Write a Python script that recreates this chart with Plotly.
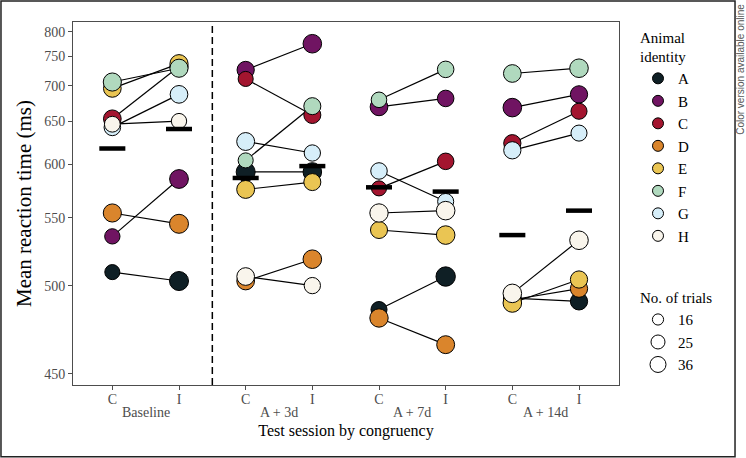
import numpy as np
import plotly.graph_objects as go

# ---------------- data ----------------
sessions = ["Baseline", "A + 3d", "A + 7d", "A + 14d"]
congruency = ["C", "I"]
animals = ["A", "B", "C", "D", "E", "F", "G", "H"]
animal_colors = ["#0f1f25", "#701462", "#a3152f", "#da852c", "#eac553",
                 "#b0d9be", "#d6eef9", "#f9f5ec"]

# mean reaction time (ms), order A..H
rt_baseline_C = [509, 535, 653, 554, 696, 706, 642, 646]
rt_baseline_I = [503, 585, 732, 545, 737, 729, 687, 650]
rt_3d_C = [592, 726, 711, 503, 575, 604, 625, 506]
rt_3d_I = [592, 775, 658, 518, 582, 670, 612, 500]
rt_7d_C = [485, 669, 576, 480, 540, 679, 593, 554]
rt_7d_I = [506, 681, 603, 465, 536, 727, 564, 556]
rt_14d_C = [492, 668, 623, 491, 489, 720, 615, 495]
rt_14d_I = [490, 687, 663, 498, 504, 729, 635, 532]

# number of trials, order A..H
trials_baseline_C = [29, 30, 40, 42, 40, 42, 35, 32]
trials_baseline_I = [46, 45, 42, 46, 42, 42, 40, 30]
trials_3d_C = [46, 38, 29, 40, 41, 29, 41, 40]
trials_3d_I = [44, 44, 37, 44, 37, 37, 34, 34]
trials_7d_C = [33, 40, 29, 43, 37, 31, 35, 43]
trials_7d_I = [48, 35, 35, 41, 44, 35, 33, 44]
trials_14d_C = [40, 44, 38, 40, 44, 40, 38, 44]
trials_14d_I = [38, 38, 33, 38, 38, 44, 33, 44]

# group-level estimates (horizontal bars)
mean_C = [617, 586, 577, 536]
mean_I = [640, 598, 573, 556]

size_legend_trials = [16, 25, 36]
y_ticks = [450, 500, 550, 600, 650, 700, 750, 800]
y_limits = [444.5, 822.8]

rt = [[rt_baseline_C, rt_baseline_I], [rt_3d_C, rt_3d_I],
      [rt_7d_C, rt_7d_I], [rt_14d_C, rt_14d_I]]
trials = [[trials_baseline_C, trials_baseline_I], [trials_3d_C, trials_3d_I],
          [trials_7d_C, trials_7d_I], [trials_14d_C, trials_14d_I]]

# power scale used by the original y axis
POW = -1.6


def T(v):
    return -1e5 * np.power(np.asarray(v, dtype=float), POW)


def size_of(n):
    return 2.8 * np.sqrt(np.asarray(n, dtype=float))


def xpos(s, c):
    return 2 * s + c


SERIF = "Liberation Serif"
GREY = "#4d4d4d"

fig = go.Figure()

# connecting lines (C -> I within each session, per animal)
lx, ly = [], []
for s in range(len(sessions)):
    for a in range(len(animals)):
        lx += [xpos(s, 0), xpos(s, 1), None]
        ly += [T(rt[s][0][a]), T(rt[s][1][a]), None]
fig.add_trace(go.Scatter(x=lx, y=ly, mode="lines",
                         line=dict(color="black", width=1.2),
                         showlegend=False, hoverinfo="skip"))

# points per animal
for a, name in enumerate(animals):
    xs, ys, ss, raw = [], [], [], []
    for s in range(len(sessions)):
        for c in range(2):
            xs.append(xpos(s, c))
            ys.append(T(rt[s][c][a]))
            ss.append(size_of(trials[s][c][a]))
            raw.append(rt[s][c][a])
    fig.add_trace(go.Scatter(
        x=xs, y=ys, mode="markers", customdata=raw,
        marker=dict(color=animal_colors[a], size=ss, opacity=1,
                    line=dict(color="black", width=1)),
        hovertemplate=name + ": %{customdata} ms<extra></extra>",
        showlegend=False))

# group bars
bx, by = [], []
for s in range(len(sessions)):
    bx += [xpos(s, 0), xpos(s, 1)]
    by += [T(mean_C[s]), T(mean_I[s])]
fig.add_trace(go.Scatter(x=bx, y=by, mode="markers",
                         marker=dict(symbol="line-ew", size=18.6, color="black",
                                     line=dict(color="black", width=4.5)),
                         showlegend=False, hoverinfo="skip"))

# legend: animal identity
for a, name in enumerate(animals):
    fig.add_trace(go.Scatter(
        x=[None], y=[None], mode="markers", name=name, legend="legend",
        marker=dict(color=animal_colors[a], size=11,
                    line=dict(color="black", width=1))))

# legend: number of trials
for n in size_legend_trials:
    fig.add_trace(go.Scatter(
        x=[None], y=[None], mode="markers", name=str(n), legend="legend2",
        marker=dict(color="white", size=float(size_of(n)),
                    line=dict(color="black", width=1))))

# session labels under the C/I ticks
for s, lab in enumerate(sessions):
    fig.add_annotation(x=(xpos(s, 0) + xpos(s, 1)) / 2, xref="x",
                       y=-0.0744, yref="paper", yanchor="middle",
                       xanchor="center",
                       text=lab, showarrow=False,
                       font=dict(family=SERIF, size=14, color=GREY))

# dashed separator between baseline and post-treatment sessions
fig.add_shape(type="line", xref="x", yref="paper",
              x0=(xpos(0, 1) + xpos(1, 0)) / 2, x1=(xpos(0, 1) + xpos(1, 0)) / 2,
              y0=0, y1=1, line=dict(color="black", width=1.5, dash="7px,4px"))

# outer figure frame
fig.add_shape(type="rect", xref="paper", yref="paper",
              x0=-0.1319, x1=1.2125, y0=-0.198, y1=1.0579,
              line=dict(color="#222222", width=1.5))

fig.add_annotation(text="Color version available online", textangle=-90,
                   xref="paper", yref="paper", x=1.2234, y=0.871,
                   xanchor="center", yanchor="middle",
                   showarrow=False,
                   font=dict(family="Liberation Sans", size=10, color="#555555"))

xticks = [xpos(s, c) for s in range(len(sessions)) for c in range(2)]
xlabels = [congruency[c] for s in range(len(sessions)) for c in range(2)]

fig.update_layout(
    width=746, height=458,
    margin=dict(l=73, r=127, t=22, b=73, pad=0),
    paper_bgcolor="white", plot_bgcolor="white",
    font=dict(family=SERIF, color="black"),
    xaxis=dict(range=[-0.59, 7.6], tickmode="array", tickvals=xticks,
               ticktext=xlabels, ticks="outside", ticklen=4, tickwidth=1,
               tickcolor=GREY, showline=True, linecolor=GREY, linewidth=1,
               mirror=True, showgrid=False, zeroline=False,
               ticklabelstandoff=-3,
               tickfont=dict(family=SERIF, size=14, color=GREY),
               title=dict(text="Test session by congruency", standoff=19,
                          font=dict(family=SERIF, size=16, color="black"))),
    yaxis=dict(range=[float(T(y_limits[0])), float(T(y_limits[1]))],
               tickmode="array", tickvals=[float(v) for v in T(y_ticks)],
               ticktext=[str(v) for v in y_ticks], ticks="outside", ticklen=4,
               tickwidth=1, tickcolor=GREY, showline=True, linecolor=GREY,
               linewidth=1, mirror=True, showgrid=False, zeroline=False,
               tickfont=dict(family=SERIF, size=14, color=GREY),
               title=dict(text="Mean reaction time (ms)", standoff=6,
                          font=dict(family=SERIF, size=21, color="black"))),
    legend=dict(title=dict(text="Animal<br>identity",
                           font=dict(family=SERIF, size=15, color="black")),
                x=1.0348, y=0.997, xanchor="left", yanchor="top",
                itemsizing="trace", font=dict(family=SERIF, size=15),
                bgcolor="rgba(0,0,0,0)", tracegroupgap=0),
    legend2=dict(title=dict(text="No. of trials",
                            font=dict(family=SERIF, size=15, color="black")),
                 x=1.0348, y=0.279, xanchor="left", yanchor="top",
                 itemsizing="trace", font=dict(family=SERIF, size=15),
                 bgcolor="rgba(0,0,0,0)"),
)

fig.write_html("out.html", config={"displayModeBar": False},
               post_script="document.body.style.margin='0px';"
                           "document.body.style.padding='0px';")
